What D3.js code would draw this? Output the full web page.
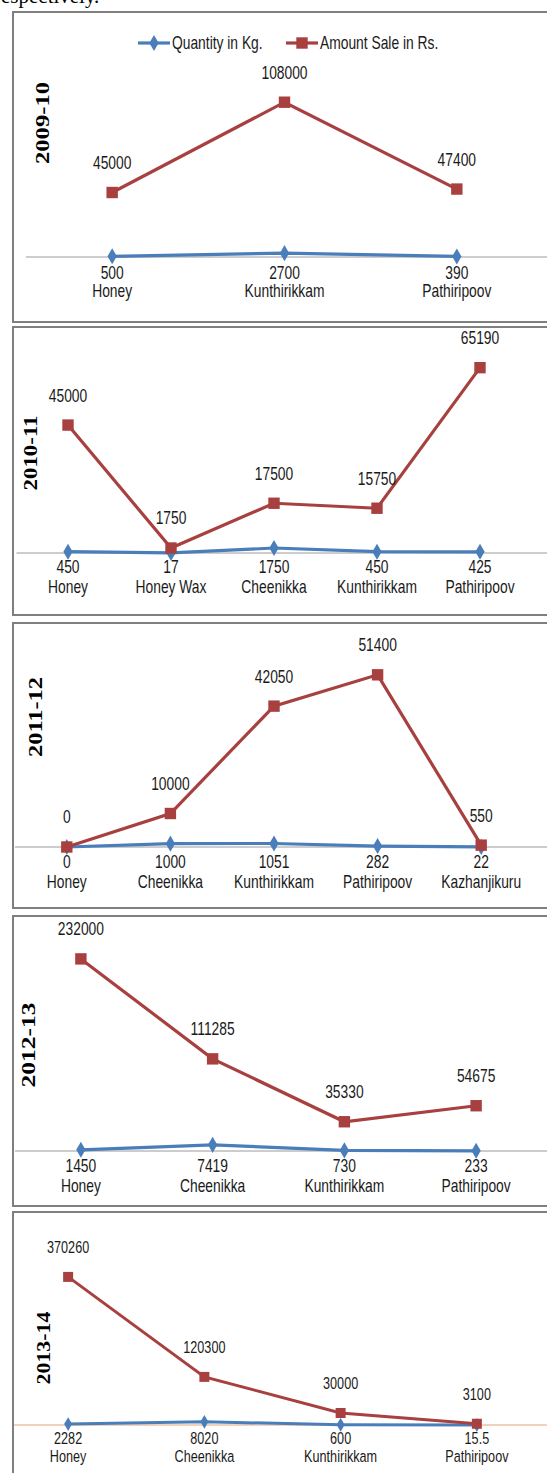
<!DOCTYPE html>
<html>
<head>
<meta charset="utf-8">
<script src="https://cdn.jsdelivr.net/npm/d3@7"></script>
<style>
  body { margin: 0; background: #fff; }
  svg { display: block; }
  text { font-family: "Liberation Sans", Arial, sans-serif; fill: #1a1a1a; }
  .ttl { font-family: "Liberation Serif", "Times New Roman", serif; font-weight: bold; fill: #000; }
</style>
</head>
<body>
<svg id="chart" width="547" height="1473"></svg>
<script>
// ---------- data, one set of arrays per year
const years = ["2009-10", "2010-11", "2011-12", "2012-13", "2013-14"];

const cats0910 = ["Honey", "Kunthirikkam", "Pathiripoov"];
const qty0910 = [500, 2700, 390];
const amt0910 = [45000, 108000, 47400];

const cats1011 = ["Honey", "Honey Wax", "Cheenikka", "Kunthirikkam", "Pathiripoov"];
const qty1011 = [450, 17, 1750, 450, 425];
const amt1011 = [45000, 1750, 17500, 15750, 65190];

const cats1112 = ["Honey", "Cheenikka", "Kunthirikkam", "Pathiripoov", "Kazhanjikuru"];
const qty1112 = [0, 1000, 1051, 282, 22];
const amt1112 = [0, 10000, 42050, 51400, 550];

const cats1213 = ["Honey", "Cheenikka", "Kunthirikkam", "Pathiripoov"];
const qty1213 = [1450, 7419, 730, 233];
const amt1213 = [232000, 111285, 35330, 54675];

const cats1314 = ["Honey", "Cheenikka", "Kunthirikkam", "Pathiripoov"];
const qty1314 = [2282, 8020, 600, 15.5];
const amt1314 = [370260, 120300, 30000, 3100];

const seriesNames = ["Quantity in Kg.", "Amount Sale in Rs."];
const yMax = [120000, 70000, 60000, 250000, 400000];

const blue = "#4a7ebb", red = "#a8403f";

// ---------- layout of each framed panel (pixels)
const panels = [
  {cats: cats0910, qty: qty0910, amt: amt0910, box: [12, 322], axisY: 257, top: 85,   xr: [26, 543],  title: [42, 123, 82], fs: 17.5, qOff: 16, cOff: 34},
  {cats: cats1011, qty: qty1011, amt: amt1011, box: [327, 615], axisY: 553, top: 354, xr: [16.5, 531.5], title: [30, 453, 75], fs: 17.5, qOff: 14, cOff: 34},
  {cats: cats1112, qty: qty1112, amt: amt1112, box: [623, 908], axisY: 847, top: 646, xr: [15, 533],  title: [35, 717, 80], fs: 17.5, qOff: 15, cOff: 35},
  {cats: cats1213, qty: qty1213, amt: amt1213, box: [916, 1206], axisY: 1151, top: 944, xr: [15, 542], title: [28, 1045, 85], fs: 17.5, qOff: 15, cOff: 35},
  {cats: cats1314, qty: qty1314, amt: amt1314, box: [1212, 1490], axisY: 1425, top: 1265, xr: [0, 545], title: [43, 1348, 73], fs: 16, qOff: 13, cOff: 31}
];

const svg = d3.select("#chart");

// the chart's text is a tall, narrow face: squeeze a regular sans
const squeeze = (px, py) => `translate(${px},${py}) scale(0.79,1.05)`;

// cut-off line of text above the first frame
svg.append("text")
  .attr("x", -6).attr("y", 3)
  .style("font-family", "Liberation Serif, serif")
  .style("font-size", "21px")
  .style("fill", "#000")
  .text("respectively.");

const diamond = d3.symbol().type(d3.symbolDiamond);
const square = d3.symbol().type(d3.symbolSquare);

panels.forEach((p, i) => {
  const last = i === 4;
  const g = svg.append("g");

  // frame
  g.append("rect")
    .attr("x", 13).attr("y", p.box[0])
    .attr("width", 600).attr("height", p.box[1] - p.box[0])
    .attr("fill", "none").attr("stroke", "#7f7f7f").attr("stroke-width", 2);

  const x = d3.scalePoint().domain(p.cats).range(p.xr).padding(0.5);
  const y = d3.scaleLinear().domain([0, yMax[i]]).range([p.axisY, p.top]);

  // category axis line
  g.append("line")
    .attr("x1", Math.max(p.xr[0], 14)).attr("x2", 547)
    .attr("y1", y(0)).attr("y2", y(0))
    .attr("stroke", last ? "#e8a27a" : "#9a9a9a").attr("stroke-width", 1);

  // year title
  g.append("text").attr("class", "ttl")
    .attr("transform", `translate(${p.title[0]},${p.title[1]}) rotate(-90)`)
    .attr("text-anchor", "middle").attr("dy", "0.35em")
    .attr("textLength", p.title[2]).attr("lengthAdjust", "spacingAndGlyphs")
    .style("font-size", "19px")
    .text(years[i]);

  const line = d3.line().x((d, j) => x(p.cats[j])).y(d => y(d));

  // quantity series
  g.append("path").datum(p.qty)
    .attr("d", line).attr("fill", "none")
    .attr("stroke", blue).attr("stroke-width", last ? 3 : 3.2);
  g.selectAll(".qm").data(p.qty).join("path")
    .attr("d", diamond.size(last ? 55 : 75))
    .attr("transform", (d, j) => `translate(${x(p.cats[j])},${y(d)})`)
    .attr("fill", blue);

  // amount series
  g.append("path").datum(p.amt)
    .attr("d", line).attr("fill", "none")
    .attr("stroke", red).attr("stroke-width", last ? 3 : 3.2);
  g.selectAll(".am").data(p.amt).join("path")
    .attr("d", square.size(last ? 100 : 130))
    .attr("transform", (d, j) => `translate(${x(p.cats[j])},${y(d)})`)
    .attr("fill", red);

  // amount labels
  g.selectAll(".al").data(p.amt).join("text")
    .attr("transform", (d, j) => squeeze(x(p.cats[j]), y(d) - 30))
    .attr("dy", "0.35em")
    .attr("text-anchor", "middle")
    .style("font-size", p.fs + "px")
    .text(d => d);

  // quantity labels and category names under the axis
  g.selectAll(".ql").data(p.qty).join("text")
    .attr("transform", (d, j) => squeeze(x(p.cats[j]), p.axisY + p.qOff))
    .attr("dy", "0.35em")
    .attr("text-anchor", "middle")
    .style("font-size", p.fs + "px")
    .text(d => d);
  g.selectAll(".cl").data(p.cats).join("text")
    .attr("transform", d => squeeze(x(d), p.axisY + p.cOff))
    .attr("dy", "0.35em")
    .attr("text-anchor", "middle")
    .style("font-size", p.fs + "px")
    .text(d => d);
});

// legend (first panel only)
const legend = svg.append("g").attr("transform", "translate(0,43)");
const legendX = [138, 286];
seriesNames.forEach((name, i) => {
  const c = i === 0 ? blue : red;
  const lg = legend.append("g").attr("transform", `translate(${legendX[i]},0)`);
  lg.append("line").attr("x1", 0).attr("x2", 32)
    .attr("stroke", c).attr("stroke-width", 3.2);
  lg.append("path").attr("d", (i === 0 ? diamond : square).size(i === 0 ? 75 : 130))
    .attr("transform", "translate(16,0)").attr("fill", c);
  lg.append("text").attr("transform", squeeze(34, 0)).attr("dy", "0.35em")
    .style("font-size", "17.5px").text(name);
});
</script>
</body>
</html>
